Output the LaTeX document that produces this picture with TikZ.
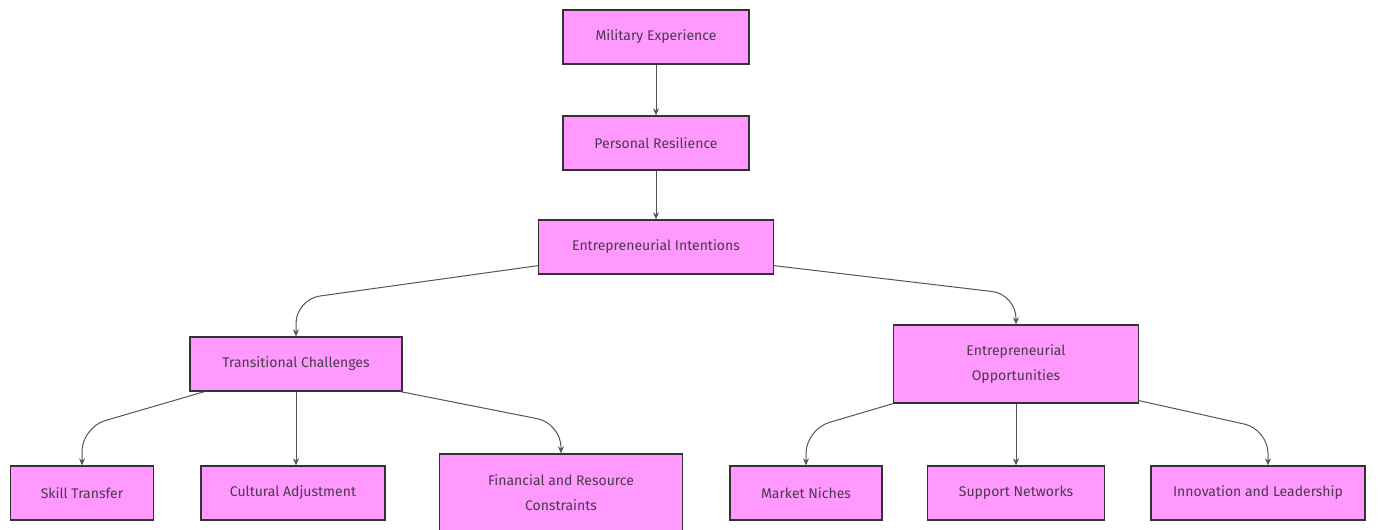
\documentclass[tikz,border=0pt]{standalone}
\usepackage{fontspec}
\setmainfont{Fira Sans}
\usetikzlibrary{positioning,arrows.meta}
\definecolor{boxfill}{HTML}{FF99FF}
\definecolor{boxline}{HTML}{333333}
\definecolor{boxtext}{HTML}{4A3A4A}
\definecolor{linkline}{HTML}{555555}

\begin{document}
\begin{tikzpicture}[x=1pt, y=-1pt, font=\fontsize{14}{25}\selectfont, >={Stealth[length=7pt,width=6pt]},
  box/.style={draw=boxline, fill=boxfill, line width=1.3pt, text=boxtext, align=center, inner sep=0pt, minimum height=54pt},
  tall/.style={box, minimum height=78pt},
  link/.style={->, draw=linkline, line width=1pt, rounded corners=24pt}]
\useasboundingbox (0,0) rectangle (1384,530);
\node[box, minimum width=186pt] (mil) at (656,37)  {Military Experience};
\node[box, minimum width=186pt] (res) at (656,143) {Personal Resilience};
\node[box, minimum width=235pt] (int) at (656,247) {Entrepreneurial Intentions};
\node[box, minimum width=212pt] (chal) at (296,364) {Transitional Challenges};
\node[tall, minimum width=245pt] (opp) at (1016,364) {Entrepreneurial\\ Opportunities};
\node[box, minimum width=143pt] (skill) at (82,493)  {Skill Transfer};
\node[box, minimum width=184pt] (cult)  at (293,493) {Cultural Adjustment};
\node[tall, minimum width=243pt] (fin)  at (561,493) {Financial and Resource\\ Constraints};
\node[box, minimum width=152pt] (niche) at (806,493) {Market Niches};
\node[box, minimum width=177pt] (netw)  at (1016,493) {Support Networks};
\node[box, minimum width=214pt] (innov) at (1258,493) {Innovation and Leadership};
\draw[link] (mil) -- (res);
\draw[link] (res) -- (int);
\draw[link] ([yshift=9pt]int.south west) -- ([yshift=37pt]chal.north) -- (chal.north);
\draw[link] ([yshift=9pt]int.south east) -- ([yshift=30pt]opp.north) -- (opp.north);
\draw[link] ([xshift=15pt]chal.south west) -- ([yshift=38pt]skill.north) -- (skill.north);
\draw[link] (chal.south) -- (chal.south |- cult.north);
\draw[link] ([xshift=-2pt]chal.south east) -- ([yshift=30pt]fin.north) -- (fin.north);
\draw[link] (opp.south west) -- ([yshift=36pt]niche.north) -- (niche.north);
\draw[link] (opp.south) -- (netw.north);
\draw[link] ([yshift=3pt]opp.south east) -- ([xshift=10pt,yshift=36pt]innov.north) -- ([xshift=10pt]innov.north);
\end{tikzpicture}
\end{document}
